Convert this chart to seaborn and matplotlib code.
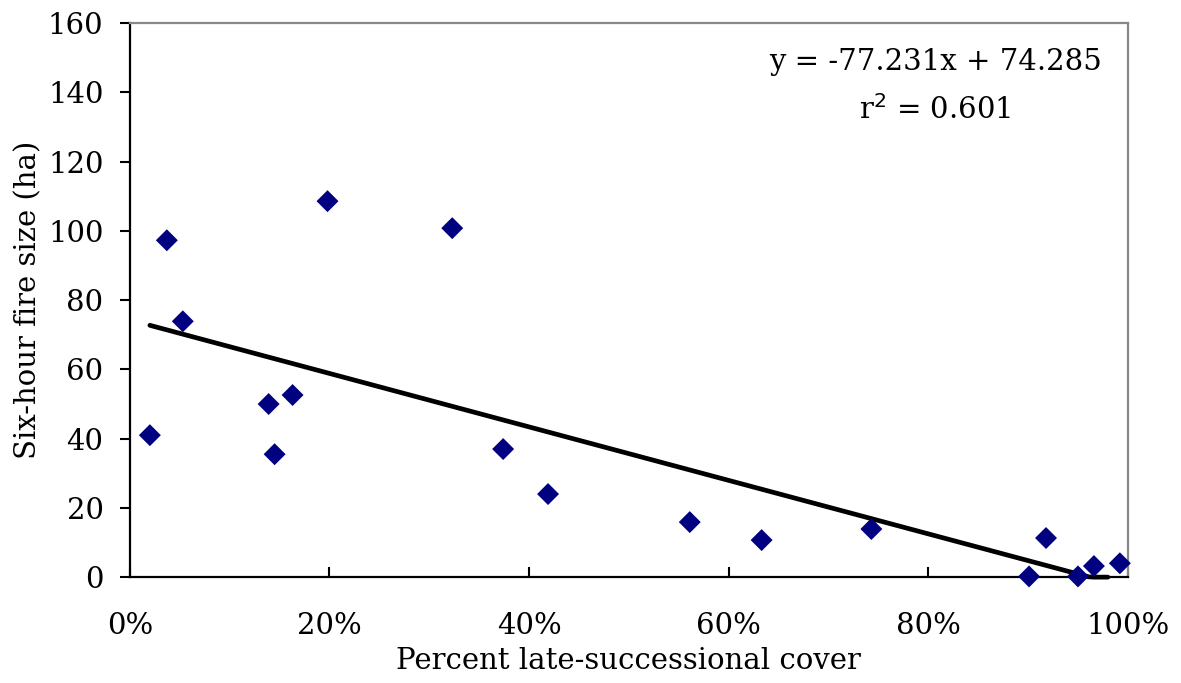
import matplotlib
matplotlib.use("Agg")
import matplotlib.pyplot as plt
import seaborn as sns
import numpy as np
import pandas as pd
from matplotlib.ticker import PercentFormatter

# Data
cover = [0.020, 0.037, 0.053, 0.139, 0.145, 0.163, 0.198, 0.323, 0.374, 0.419,
         0.561, 0.633, 0.743, 0.901, 0.918, 0.950, 0.966, 0.992]
fire_size = [41.0, 97.3, 73.9, 50.0, 35.5, 52.6, 108.6, 100.8, 37.0, 24.0,
             15.9, 10.7, 13.9, 0.2, 11.3, 0.2, 3.2, 4.0]
slope = -77.231
intercept = 74.285
r2 = 0.601
x_ticks = [0, 0.2, 0.4, 0.6, 0.8, 1.0]
y_ticks = [0, 20, 40, 60, 80, 100, 120, 140, 160]

df = pd.DataFrame({"cover": cover, "size": fire_size})

sns.set_style("white")
plt.rcParams['font.family'] = ['DejaVu Serif']
plt.rcParams['text.color'] = 'black'
plt.rcParams['axes.labelcolor'] = 'black'
plt.rcParams['xtick.color'] = 'black'
plt.rcParams['ytick.color'] = 'black'

fig = plt.figure(figsize=(11.81, 6.83), dpi=100)
ax = fig.add_axes([0.110, 0.155, 0.845, 0.811])

# trendline (Excel-style, floored at axis minimum)
xl = np.linspace(min(cover), 0.98, 200)
yl = np.maximum(slope * xl + intercept, 0)
ax.plot(xl, yl, color="black", lw=3.4, solid_capstyle="round", zorder=2, clip_on=False)

sns.scatterplot(data=df, x="cover", y="size", marker="D", s=125, color="#000080",
                edgecolor="none", ax=ax, zorder=3, clip_on=False)

ax.set_xlim(0, 1.0)
ax.set_ylim(0, 160)
ax.set_xticks(x_ticks)
ax.set_yticks(y_ticks)
ax.xaxis.set_major_formatter(PercentFormatter(1.0, decimals=0))

fs = 21
ax.tick_params(axis="y", direction="out", length=7, width=1.5, labelsize=fs, pad=12, left=True)
ax.tick_params(axis="x", direction="in", length=7, width=1.5, labelsize=fs, pad=25, bottom=True)

for s in ["left", "bottom"]:
    ax.spines[s].set_color("black")
    ax.spines[s].set_linewidth(1.6)
for s in ["top", "right"]:
    ax.spines[s].set_color("#888888")
    ax.spines[s].set_linewidth(1.6)
    ax.spines[s].set_visible(True)

ax.set_xlabel("Percent late-successional cover", fontsize=fs, labelpad=5)
ax.set_ylabel("Six-hour fire size (ha)", fontsize=fs, labelpad=4)

ax.text(0.807, 148.7, "y = -77.231x + 74.285", fontsize=fs, ha="center", va="center")
ax.text(0.807, 135.0, r"r$^{2}$ = 0.601", fontsize=fs, ha="center", va="center")

fig.savefig("out.png", dpi=100)
